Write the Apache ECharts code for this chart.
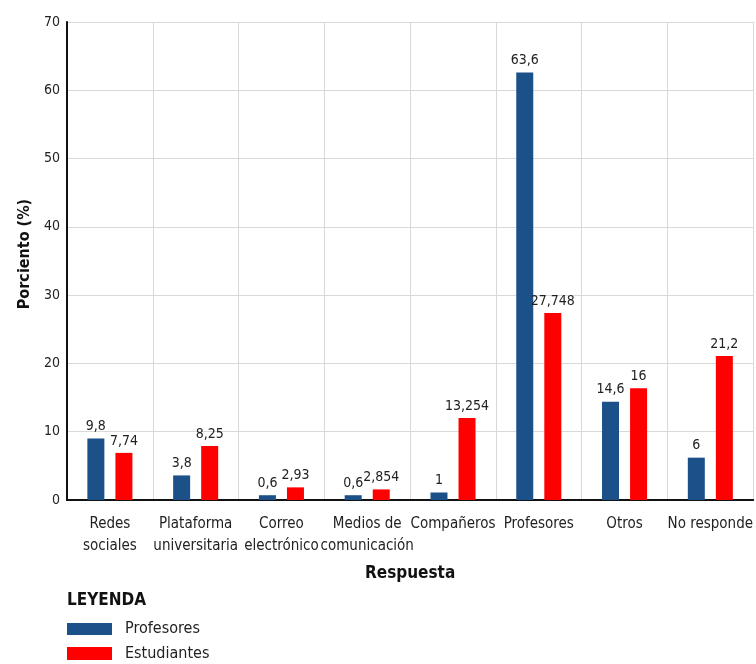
<!DOCTYPE html>
<html>
<head>
<meta charset="utf-8">
<script src="https://cdn.jsdelivr.net/npm/echarts@6/dist/echarts.min.js"></script>
<style>
html,body{margin:0;padding:0;background:#fff;}
#c{width:756px;height:664px;}
</style>
</head>
<body>
<div id="c"></div>
<script>
const categories = ["Redes\nsociales", "Plataforma\nuniversitaria", "Correo\nelectrónico", "Medios de\ncomunicación", "Compañeros", "Profesores", "Otros", "No responde"];
// bar heights as drawn in the picture
const profesores = [9.0, 3.6, 0.7, 0.7, 1.1, 62.6, 14.4, 6.2];
const estudiantes = [6.9, 7.9, 1.85, 1.55, 12.0, 27.4, 16.35, 21.1];
// value labels as printed
const profesoresLabels = ["9,8", "3,8", "0,6", "0,6", "1", "63,6", "14,6", "6"];
const estudiantesLabels = ["7,74", "8,25", "2,93", "2,854", "13,254", "27,748", "16", "21,2"];
const yTicks = [0, 10, 20, 30, 40, 50, 60, 70];

const FONT = "DejaVu Sans Condensed";
const legendText = {fontFamily: FONT, fontSize: 16, lineHeight: 20, color: '#222', padding: [0, 0, 0, 8]};
const chart = echarts.init(document.getElementById('c'), null, {renderer: 'canvas'});
chart.setOption({
  animation: false,
  textStyle: {fontFamily: FONT},
  title: {
    text: 'LEYENDA', left: 67, top: 592, padding: 0,
    textStyle: {fontFamily: FONT, fontWeight: 'bold', fontSize: 17, color: '#111'}
  },
  legend: [
    {
      orient: 'vertical', left: 67, top: 619, padding: 0,
      itemWidth: 45, itemHeight: 12, icon: 'rect',
      textStyle: legendText, data: ['Profesores']
    },
    {
      orient: 'vertical', left: 67, top: 643.5, padding: 0,
      itemWidth: 45, itemHeight: 13, icon: 'rect',
      textStyle: legendText, data: ['Estudiantes']
    }
  ],
  grid: {left: 67, right: 2, top: 22, bottom: 164, containLabel: false},
  xAxis: {
    type: 'category',
    data: categories,
    name: 'Respuesta', nameLocation: 'middle', nameGap: 65,
    nameTextStyle: {fontFamily: FONT, fontWeight: 'bold', fontSize: 17, color: '#111'},
    axisLine: {show: true, lineStyle: {color: '#111', width: 2}},
    axisTick: {show: false},
    splitLine: {show: true, lineStyle: {color: '#d9d9d9', width: 1}},
    axisLabel: {interval: 0, margin: 13, fontSize: 15, lineHeight: 22, color: '#222', fontFamily: FONT, hideOverlap: false}
  },
  yAxis: {
    type: 'value', min: yTicks[0], max: yTicks[yTicks.length - 1], interval: 10,
    name: 'Porciento (%)', nameLocation: 'middle', nameGap: 34,
    nameTextStyle: {fontFamily: FONT, fontWeight: 'bold', fontSize: 16, color: '#111', padding: [0, 0, 0, 14]},
    axisLine: {show: true, lineStyle: {color: '#111', width: 2}},
    axisTick: {show: false},
    splitLine: {show: true, lineStyle: {color: '#d9d9d9', width: 1}},
    axisLabel: {margin: 7, fontSize: 14, color: '#222', fontFamily: FONT}
  },
  series: [
    {
      name: 'Profesores', type: 'bar', data: profesores,
      barWidth: 17, barGap: '65%',
      itemStyle: {color: '#1b5089'},
      label: {show: true, position: 'top', distance: 5, fontSize: 14, color: '#222', fontFamily: FONT,
        formatter: p => profesoresLabels[p.dataIndex]}
    },
    {
      name: 'Estudiantes', type: 'bar', data: estudiantes,
      barWidth: 17, barGap: '65%',
      itemStyle: {color: '#ff0000'},
      label: {show: true, position: 'top', distance: 5, fontSize: 14, color: '#222', fontFamily: FONT,
        formatter: p => estudiantesLabels[p.dataIndex]}
    }
  ]
});
</script>
</body>
</html>
